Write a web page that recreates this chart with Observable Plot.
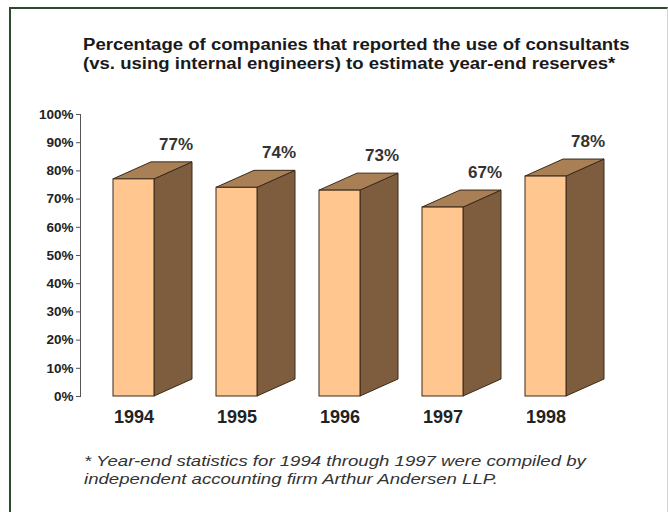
<!DOCTYPE html>
<html>
<head>
<meta charset="utf-8">
<script src="https://cdn.jsdelivr.net/npm/d3@7"></script>
<script src="https://cdn.jsdelivr.net/npm/@observablehq/plot@0.6"></script>
<style>
  html, body { margin: 0; padding: 0; background: #fff; }
  #wrap { position: relative; width: 668px; height: 512px; overflow: hidden; background: #fff;
          font-family: "Liberation Sans", Arial, Helvetica, sans-serif; }
  #border { position: absolute; left: 9px; top: 7px; right: 0px; bottom: -10px;
            border-top: 2px solid #2e4a30; border-left: 2px solid #2e4a30; border-right: 1px solid #d4d4d4; }
  #chart { position: absolute; left: 0; top: 0; }
  #title { position: absolute; left: 83px; top: 35px; white-space: nowrap; font-weight: bold;
           font-size: 16px; line-height: 19px; color: #1a1a1a; transform: scaleX(1.16); transform-origin: left top; }
  #note { position: absolute; left: 84px; top: 452px; white-space: nowrap; font-style: italic;
          font-size: 15px; line-height: 18px; color: #333; transform: scaleX(1.24); transform-origin: left top; }
</style>
</head>
<body>
<div id="wrap">
  <div id="border"></div>
  <div id="chart"></div>
  <div id="title">Percentage of companies that reported the use of consultants<br>(vs. using internal engineers) to estimate year-end reserves*</div>
  <div id="note">* Year-end statistics for 1994 through 1997 were compiled by<br>independent accounting firm Arthur Andersen LLP.</div>
</div>
<script>
const years = ["1994", "1995", "1996", "1997", "1998"];
const values = [77, 74, 73, 67, 78];
const yTicks = [0, 10, 20, 30, 40, 50, 60, 70, 80, 90, 100];
const valueLabels = ["77%", "74%", "73%", "67%", "78%"];

const data = years.map((year, i) => ({year, value: values[i], label: valueLabels[i]}));

const FRONT = "#ffc78f";
const SIDE = "#7d5d3e";
const TOP = "#a97f56";
const EDGE = "#3a2a1a";
const DX = 38, DY = 17;

function prismRender(index, scales, vals, dimensions, context, next) {
  const front = next(index, scales, vals, dimensions, context);
  const g = d3.create("svg:g");
  const xs = scales.x, ys = scales.y;
  const bw = typeof xs.bandwidth === "function" ? xs.bandwidth() : xs.bandwidth;
  for (const i of index) {
    const d = data[i];
    const x0 = xs(d.year), x1 = x0 + bw;
    const yt = ys(d.value), yb = ys(0);
    const side = [[x1, yb], [x1, yt], [x1 + DX, yt - DY], [x1 + DX, yb - DY]];
    const top = [[x0, yt], [x1, yt], [x1 + DX, yt - DY], [x0 + DX, yt - DY]];
    g.append("path").attr("d", "M" + side.join("L") + "Z")
      .attr("fill", SIDE).attr("stroke", EDGE).attr("stroke-width", 1).attr("stroke-linejoin", "round");
    g.append("path").attr("d", "M" + top.join("L") + "Z")
      .attr("fill", TOP).attr("stroke", EDGE).attr("stroke-width", 1).attr("stroke-linejoin", "round");
  }
  g.append(() => front);
  return g.node();
}

const chart = Plot.plot({
  width: 668,
  height: 512,
  marginLeft: 80,
  marginRight: 70,
  marginTop: 114,
  marginBottom: 116,
  style: {background: "transparent", fontFamily: "Liberation Sans, Arial, sans-serif", color: "#222"},
  x: {domain: years, paddingInner: 0.603, paddingOuter: 0.31, align: 0.5, label: null},
  y: {domain: [0, 100], label: null},
  marks: [
    Plot.frame({anchor: "left", stroke: "#555"}),
    Plot.axisY({ticks: yTicks, tickFormat: d => d + "%", tickSize: 4, tickPadding: 3,
                fontSize: 13.5, fontWeight: "bold", stroke: "#555", label: null}),
    Plot.axisX({tickSize: 0, tickPadding: 14, fontSize: 18, fontWeight: "bold", label: null}),
    Plot.barY(data, {x: "year", y: "value", fill: FRONT, stroke: EDGE, strokeWidth: 1, render: prismRender}),
    Plot.text(data, {x: "year", y: "value", text: "label", textAnchor: "end",
                     dx: 59, dy: -35, fontSize: 17, fontWeight: "bold", fill: "#333"})
  ]
});
document.getElementById("chart").appendChild(chart);
</script>
</body>
</html>
